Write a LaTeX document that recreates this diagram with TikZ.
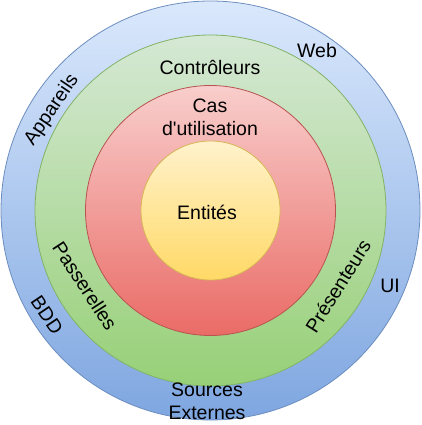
\documentclass[tikz,border=0pt]{standalone}
\usepackage{fontspec}
\setmainfont{Liberation Sans}
\newfontfamily\labfont{Liberation Sans}
\definecolor{blueT}{HTML}{DAE8FC}
\definecolor{blueB}{HTML}{7EA6E0}
\definecolor{blueS}{HTML}{6C8EBF}
\definecolor{greenT}{HTML}{D5E8D4}
\definecolor{greenB}{HTML}{97D077}
\definecolor{greenS}{HTML}{82B366}
\definecolor{redT}{HTML}{F8CECC}
\definecolor{redB}{HTML}{EA6B66}
\definecolor{redS}{HTML}{B85450}
\definecolor{yelT}{HTML}{FFF2CC}
\definecolor{yelB}{HTML}{FFD966}
\definecolor{yelS}{HTML}{D6B656}
\begin{document}
\begin{tikzpicture}[x=1pt,y=-1pt,
  ring/.style={line width=0.8pt},
  lbl/.style={font=\labfont\fontsize{19.5}{23}\selectfont, inner sep=0pt, align=center}]
\useasboundingbox (0,0) rectangle (421,425);
\coordinate (c) at (210.5,210.5);
\shade[ring, top color=blueT, bottom color=blueB, draw=blueS] (c) circle[radius=209.5];
\shade[ring, top color=greenT, bottom color=greenB, draw=greenS] (c) circle[radius=175.5];
\shade[ring, top color=redT, bottom color=redB, draw=redS] (c) circle[radius=125];
\shade[ring, top color=yelT, bottom color=yelB, draw=yelS] (c) circle[radius=69.5];
\node[lbl] (ent) at (207,212) {Entités};
\node[lbl] (cas) at (210,117) {Cas\\d'utilisation};
\node[lbl] (ctl) at (210,67) {Contrôleurs};
\node[lbl] (web) at (317,51) {Web};
\node[lbl, rotate=56] (app) at (52,110) {Appareils};
\node[lbl, rotate=-57] (pas) at (85,286) {Passerelles};
\node[lbl, rotate=-56] (bdd) at (47,315) {BDD};
\node[lbl, rotate=58] (pre) at (338,286) {Présenteurs};
\node[lbl] (ui) at (390,286) {UI};
\node[lbl] (src) at (207,401) {Sources\\Externes};
\end{tikzpicture}
\end{document}
